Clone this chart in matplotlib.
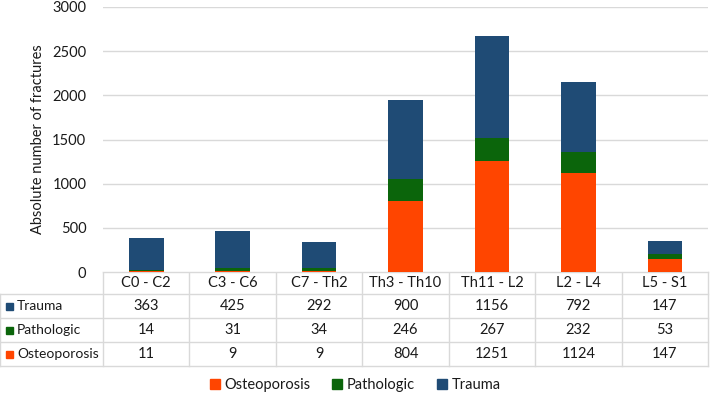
import numpy as np
import matplotlib.pyplot as plt
from matplotlib.patches import Rectangle

plt.rcParams['font.family'] = ['Lato', 'DejaVu Sans']

# data
regions = ["C0 - C2", "C3 - C6", "C7 - Th2", "Th3 - Th10", "Th11 - L2", "L2 - L4", "L5 - S1"]
osteoporosis = [11, 9, 9, 804, 1251, 1124, 147]
pathologic = [14, 31, 34, 246, 267, 232, 53]
trauma = [363, 425, 292, 900, 1156, 792, 147]

c_ost = "#FF4500"
c_pat = "#0B650B"
c_tra = "#1F4B75"
grid_c = "#D9D9D9"
txt_c = "#1A1A1A"

W, H = 710, 397
fig = plt.figure(figsize=(W / 100, H / 100), dpi=100)

# pixel layout
x0, x1 = 103, 708
y_top, y_zero = 7, 272
ax = fig.add_axes([x0 / W, 1 - y_zero / H, (x1 - x0) / W, (y_zero - y_top) / H])

x = np.arange(len(regions))
ost = np.array(osteoporosis)
pat = np.array(pathologic)
tra = np.array(trauma)
ax.bar(x, ost, width=0.4, color=c_ost, zorder=3)
ax.bar(x, pat, width=0.4, bottom=ost, color=c_pat, zorder=3)
ax.bar(x, tra, width=0.4, bottom=ost + pat, color=c_tra, zorder=3)

ax.set_xlim(-0.5, len(regions) - 0.5)
ax.set_ylim(0, 3000)
ax.set_yticks(np.arange(0, 3001, 500))
ax.yaxis.grid(True, color=grid_c, linewidth=1)
ax.set_xticks([])
ax.tick_params(axis='y', length=0, labelsize=10.5, labelcolor=txt_c, pad=12)
for s in ax.spines.values():
    s.set_visible(False)
ax.set_ylabel("Absolute number of fractures", fontsize=10.5, color=txt_c)
ax.yaxis.set_label_coords((45 - x0) / (x1 - x0), 0.5)

# table drawn on an overlay in pixel coordinates
tab = fig.add_axes([0, 0, 1, 1], zorder=-1)
tab.set_xlim(0, W)
tab.set_ylim(H, 0)
tab.axis('off')

n = len(regions)
cw = (x1 - x0) / n
row_edges = [272, 294, 318, 342, 366]
lw = 1
# horizontal lines
tab.plot([x0, x1], [row_edges[0]] * 2, color=grid_c, lw=lw)
for yy in row_edges[1:]:
    tab.plot([0, x1], [yy, yy], color=grid_c, lw=lw)
# vertical lines
for i in range(n + 1):
    xx = x0 + i * cw
    tab.plot([xx, xx], [row_edges[0], row_edges[-1]], color=grid_c, lw=lw)
tab.plot([0, 0], [row_edges[1], row_edges[-1]], color=grid_c, lw=lw)

fs = 10.5
for i, r in enumerate(regions):
    cx = x0 + (i + 0.5) * cw
    tab.text(cx, (row_edges[0] + row_edges[1]) / 2, r, ha='center', va='center', fontsize=fs, color=txt_c)

rows = [("Trauma", trauma, c_tra), ("Pathologic", pathologic, c_pat), ("Osteoporosis", osteoporosis, c_ost)]
for k, (name, vals, col) in enumerate(rows):
    cy = (row_edges[k + 1] + row_edges[k + 2]) / 2
    tab.add_patch(Rectangle((6, cy - 3.5), 7, 7, color=col))
    tab.text(17, cy, name, ha='left', va='center', fontsize=10, color=txt_c)
    for i, v in enumerate(vals):
        tab.text(x0 + (i + 0.5) * cw, cy, str(v), ha='center', va='center', fontsize=fs, color=txt_c)

# legend
leg = ax.legend(handles=[Rectangle((0, 0), 1, 1, color=c) for c in (c_ost, c_pat, c_tra)],
                labels=["Osteoporosis", "Pathologic", "Trauma"],
                loc='center', bbox_to_anchor=(355 / W, 1 - 385 / H), bbox_transform=fig.transFigure,
                ncol=3, frameon=False, fontsize=fs, handlelength=0.7, handleheight=0.7,
                handletextpad=0.3, columnspacing=1.5)
for t in leg.get_texts():
    t.set_color(txt_c)

fig.savefig("out.png", dpi=100)
